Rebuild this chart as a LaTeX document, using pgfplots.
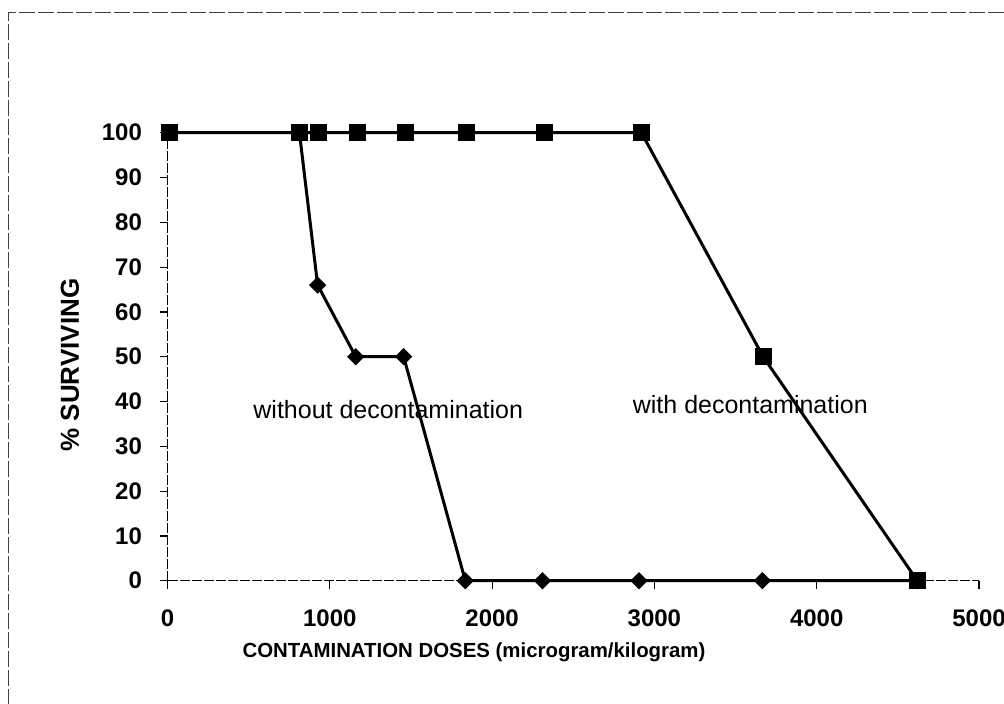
\documentclass[border=0pt]{standalone}
\usepackage{pgfplots}
\usepackage{pgfplotstable}
\pgfplotsset{compat=1.18}
\usepackage{fontspec}
\setmainfont{Liberation Sans}

\pgfplotstableread{
x y
813 100
925 66
1160 50
1455 50
1835 0
2310 0
2905 0
3665 0
4620 0
}\withoutdecon
\pgfplotstableread{
x y
10 100
813 100
930 100
1170 100
1465 100
1845 100
2320 100
2920 100
3670 50
4620 0
}\withdecon

\begin{document}
\begin{tikzpicture}
\useasboundingbox (0,0) rectangle (502pt,351.5pt);
\fill[white] (0,0) rectangle (502pt,351.5pt);
\draw[black!75, line width=0.5pt, dash pattern=on 8pt off 1.5pt] (4pt,-1pt) -- (4pt,345pt) -- (503pt,345pt);
\begin{axis}[
  at={(83.75pt,61.15pt)}, anchor=south west,
  scale only axis, width=405.75pt, height=224pt,
  xmin=0, xmax=5000, ymin=0, ymax=100,
  clip=false,
  axis lines*=left,
  axis line style={black, line width=0.6pt, dash pattern=on 5pt off 1pt},
  tick style={black, line width=0.6pt, solid},
  major tick length=4pt, tick align=outside,
  xtick={0,1000,2000,3000,4000,5000},
  ytick={0,10,20,30,40,50,60,70,80,90,100},
  scaled x ticks=false,
  /pgf/number format/assume math mode=true,
  /pgf/number format/1000 sep={},
  tick label style={font=\bfseries\fontsize{12}{14}\selectfont},
  yticklabel style={inner sep=0pt, anchor=east, xshift=-8.6pt},
  xticklabel style={inner sep=0pt, anchor=north, yshift=-10.5pt},
  xlabel={CONTAMINATION DOSES (microgram/kilogram)},
  xlabel style={font=\bfseries\fontsize{10.2}{12}\selectfont, at={(axis description cs:0.3777,-0.1607)}, anchor=center},
  ylabel={\% SURVIVING},
  ylabel style={font=\bfseries\fontsize{13}{15}\selectfont, at={(axis description cs:-0.1201,0.4815)}, anchor=center},
]
\addplot[black, line width=1.5pt, mark=square*, mark size=2.3pt, mark options={rotate=45, solid, fill=black}] table {\withoutdecon};
\addplot[black, line width=1.5pt, mark=square*, mark size=3.5pt, mark options={solid, fill=black}] table {\withdecon};
\node[font=\fontsize{12.5}{15}\selectfont] at (axis cs:1360,38.1) {without decontamination};
\node[font=\fontsize{12.5}{15}\selectfont] at (axis cs:3591,39.4) {with decontamination};
\end{axis}
\end{tikzpicture}
\end{document}
